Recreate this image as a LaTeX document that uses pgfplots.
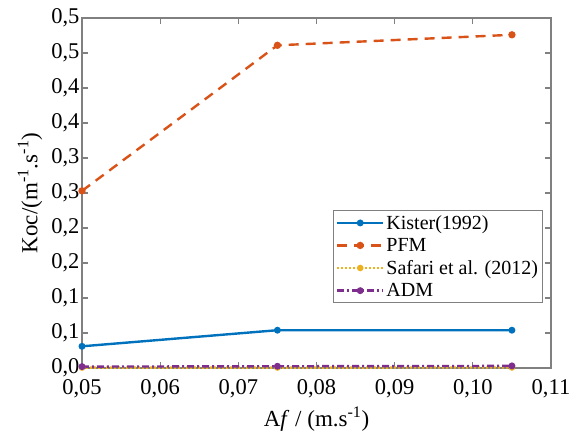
\documentclass[border=0pt]{standalone}
\usepackage{pgfplots}
\pgfplotsset{compat=1.18}
\usepackage{fontspec}
\setmainfont{Liberation Serif}
\definecolor{mblue}{rgb}{0,0.447,0.741}
\definecolor{morange}{rgb}{0.85,0.325,0.098}
\definecolor{myellow}{rgb}{0.929,0.694,0.125}
\definecolor{mpurple}{rgb}{0.494,0.184,0.556}
\definecolor{axgray}{rgb}{0.5,0.5,0.5}
\begin{document}
\begin{tikzpicture}
\begin{axis}[
  name=ax,
  scale only axis,
  width=469pt, height=350pt,
  xmin=0.05, xmax=0.11, ymin=0, ymax=0.5,
  xtick={0.05,0.06,0.07,0.08,0.09,0.10,0.11},
  xticklabels={{0,05},{0,06},{0,07},{0,08},{0,09},{0,10},{0,11}},
  ytick={0,0.05,0.1,0.15,0.2,0.25,0.3,0.35,0.4,0.45,0.5},
  yticklabels={{0,0},{0,1},{0,1},{0,2},{0,2},{0,3},{0,3},{0,4},{0,4},{0,5},{0,5}},
  tick align=inside,
  major tick length=6pt,
  axis line style={axgray, line width=1.6pt},
  tick style={axgray, line width=1.2pt},
  ticklabel style={font=\fontsize{22.5}{26}\selectfont},
  yticklabel style={xshift=1pt},
  xticklabel style={yshift=-8pt},
  label style={font=\fontsize{23}{27}\selectfont},
  xlabel={A\textit{f} / (m.s\textsuperscript{-1})},
  ylabel={Koc/(m\textsuperscript{-1}.s\textsuperscript{-1})},
  xlabel style={at={(axis description cs:0.5,-0.146)}, anchor=center},
  ylabel style={at={(axis description cs:-0.111,0.5)}, anchor=center},
  legend style={at={(0.535,0.451)}, anchor=north west, draw=axgray, line width=1.2pt,
    font=\fontsize{20}{22}\selectfont, row sep=3.5pt, inner sep=2.5pt, cells={anchor=west}},
  legend image code/.code={\draw[mark repeat=2,mark phase=2,#1] plot coordinates {(0pt,0pt) (23pt,0pt) (46pt,0pt)};},
  clip=false,
]
\addplot[mblue, line width=2.4pt, mark=*, mark size=2.2pt] coordinates {(0.05,0.031) (0.075,0.054) (0.105,0.054)};
\addlegendentry{Kister(1992)}
\addplot[morange, line width=2.4pt, dash pattern=on 10pt off 7pt, mark=*, mark size=2.4pt, mark options={solid}] coordinates {(0.05,0.253) (0.075,0.461) (0.105,0.476)};
\addlegendentry{PFM}
\addplot[myellow, line width=2.4pt, dash pattern=on 2pt off 2pt, mark=*, mark size=2pt, mark options={solid}] coordinates {(0.05,0.0005) (0.075,0.0006) (0.105,0.0007)};
\addlegendentry{Safari et al. (2012)}
\addplot[mpurple, line width=2.4pt, dash pattern=on 7pt off 3pt on 2pt off 3pt, mark=*, mark size=2.2pt, mark options={solid}] coordinates {(0.05,0.002) (0.075,0.0025) (0.105,0.003)};
\addlegendentry{ADM}
\end{axis}
\pgfresetboundingbox
\path ([shift={(-82pt,-68pt)}]ax.south west) rectangle ([shift={(20pt,18pt)}]ax.north east);
\end{tikzpicture}
\end{document}
